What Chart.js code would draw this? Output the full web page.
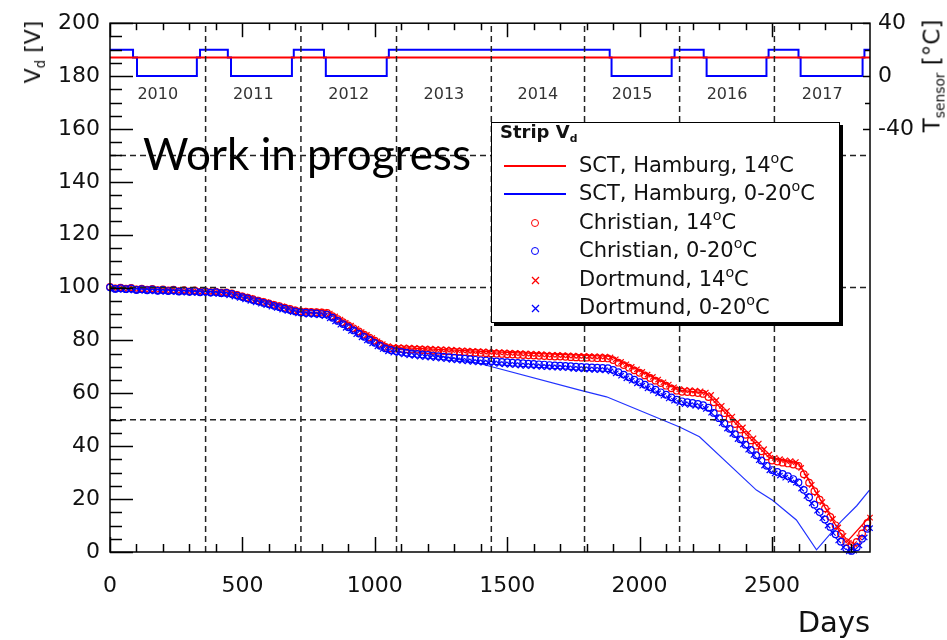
<!DOCTYPE html>
<html lang="en">
<head>
<meta charset="utf-8">
<title>Strip Vd vs days</title>
<script src="https://cdn.jsdelivr.net/npm/chart.js@4.4.1/dist/chart.umd.min.js"></script>
<style>
  html, body { margin: 0; padding: 0; background: #fff; }
  #wrap { position: relative; width: 947px; height: 640px; font-family: "DejaVu Sans", sans-serif; color: #111; overflow: hidden; }
  #chart { position: absolute; left: 0; top: 0; }
  .txt { position: absolute; white-space: nowrap; line-height: 1; }
  .rot { transform: translate(-50%, -50%) rotate(-90deg); }
  sub { font-size: 0.6em; vertical-align: -0.35em; line-height: 0; }
  sup { font-size: 0.68em; vertical-align: 0.6em; line-height: 0; }
  #legend { position: absolute; left: 491px; top: 122px; width: 349px; height: 201px; box-sizing: border-box;
            background: #fff; border: 1.5px solid #000; box-shadow: 3px 3px 0 #000; }
  #legend .title { position: absolute; left: 8px; top: 0; font-weight: bold; font-size: 18px; line-height: 1; }
  .row { position: absolute; left: 0; width: 100%; height: 0; }
  .row .sample { position: absolute; left: 12px; width: 62px; top: -1px; height: 0; border-top: 2px solid; }
  .row .circ { position: absolute; left: 39px; top: -4px; width: 8px; height: 8px; box-sizing: border-box; border: 1.5px solid; border-radius: 50%; }
  .row svg { position: absolute; left: 39px; top: -4px; }
  .row .label { position: absolute; left: 87px; top: -11px; font-size: 21px; line-height: 1; white-space: nowrap; color: #111; }
  #wip { left: 143px; top: 131px; font-family: Lato, sans-serif; font-size: 44px; font-weight: 400; color: #000; }
</style>
</head>
<body>
<div id="wrap">
  <canvas id="chart" width="947" height="640"></canvas>

  <div class="txt rot" style="left:33px; top:52px; font-size:22px;">V<sub>d</sub> [V]</div>
  <div class="txt rot" style="left:932px; top:76px; font-size:23px;">T<sub>sensor</sub> [°C]</div>
  <div class="txt" style="right:77px; top:608px; font-size:29px;">Days</div>
  <div class="txt" id="wip">Work in progress</div>

  <div id="legend">
    <div class="title">Strip V<sub>d</sub></div>
    <div class="row" style="top:42.5px;"><div class="sample" style="border-color:#ff0000;"></div><div class="label">SCT, Hamburg, 14<sup>o</sup>C</div></div>
    <div class="row" style="top:71px;"><div class="sample" style="border-color:#0000ff;"></div><div class="label">SCT, Hamburg, 0-20<sup>o</sup>C</div></div>
    <div class="row" style="top:99.5px;"><div class="circ" style="border-color:#ff0000;"></div><div class="label">Christian, 14<sup>o</sup>C</div></div>
    <div class="row" style="top:128px;"><div class="circ" style="border-color:#0000ff;"></div><div class="label">Christian, 0-20<sup>o</sup>C</div></div>
    <div class="row" style="top:156.5px;"><svg width="9" height="9"><path d="M1 1L8 8M8 1L1 8" stroke="#ff0000" stroke-width="1.3"/></svg><div class="label">Dortmund, 14<sup>o</sup>C</div></div>
    <div class="row" style="top:185px;"><svg width="9" height="9"><path d="M1 1L8 8M8 1L1 8" stroke="#0000ff" stroke-width="1.3"/></svg><div class="label">Dortmund, 0-20<sup>o</sup>C</div></div>
  </div>
</div>

<script>
// ---- data (V_d in volts vs. days) ----
const christianDays = [
  0, 20, 40, 60, 80, 100, 120, 140, 160, 180,
  200, 220, 240, 260, 280, 300, 320, 340, 360, 380,
  400, 420, 440, 460, 480, 500, 520, 540, 560, 580,
  600, 620, 640, 660, 680, 700, 720, 740, 760, 780,
  800, 820, 840, 860, 880, 900, 920, 940, 960, 980,
  1000, 1020, 1040, 1060, 1080, 1100, 1120, 1140, 1160, 1180,
  1200, 1220, 1240, 1260, 1280, 1300, 1320, 1340, 1360, 1380,
  1400, 1420, 1440, 1460, 1480, 1500, 1520, 1540, 1560, 1580,
  1600, 1620, 1640, 1660, 1680, 1700, 1720, 1740, 1760, 1780,
  1800, 1820, 1840, 1860, 1880, 1900, 1920, 1940, 1960, 1980,
  2000, 2020, 2040, 2060, 2080, 2100, 2120, 2140, 2160, 2180,
  2200, 2220, 2240, 2260, 2280, 2300, 2320, 2340, 2360, 2380,
  2400, 2420, 2440, 2460, 2480, 2500, 2520, 2540, 2560, 2580,
  2600, 2620, 2640, 2660, 2680, 2700, 2720, 2740, 2760, 2780,
  2800, 2820, 2840, 2860
];
const christianRed = [
  100.3, 99.7, 100.0, 99.6, 99.9, 99.3, 99.6, 99.2, 99.5, 99.0,
  99.3, 98.9, 99.2, 98.7, 99.0, 98.6, 98.9, 98.4, 98.7, 98.3,
  98.5, 98.1, 98.2, 97.8, 97.2, 96.7, 96.2, 95.6, 95.1, 94.6,
  94.0, 93.5, 93.0, 92.4, 91.9, 91.4, 91.0, 90.9, 90.8, 90.7,
  90.6, 90.4, 89.2, 88.1, 86.9, 85.7, 84.6, 83.4, 82.2, 81.1,
  79.9, 78.7, 77.6, 77.0, 76.9, 76.8, 76.7, 76.6, 76.5, 76.4,
  76.3, 76.2, 76.1, 76.0, 75.9, 75.8, 75.7, 75.6, 75.5, 75.4,
  75.3, 75.2, 75.1, 75.0, 74.9, 74.8, 74.7, 74.6, 74.5, 74.4,
  74.3, 74.2, 74.1, 74.0, 73.9, 73.9, 73.8, 73.7, 73.6, 73.5,
  73.5, 73.4, 73.3, 73.3, 73.2, 72.6, 71.6, 70.7, 69.7, 68.7,
  67.8, 66.8, 65.8, 64.8, 63.9, 62.9, 61.9, 61.0, 60.6, 60.5,
  60.3, 60.1, 59.8, 58.6, 56.6, 54.5, 52.5, 50.4, 48.4, 46.3,
  44.3, 42.2, 40.2, 38.1, 36.1, 34.6, 34.2, 33.8, 33.5, 33.1,
  32.6, 29.4, 26.2, 23.0, 19.8, 16.5, 13.3, 10.1, 6.9, 3.7,
  2.2, 3.8, 7.0, 11.0
];
const christianBlue = [
  100.1, 99.5, 99.8, 99.4, 99.7, 99.1, 99.4, 99.0, 99.3, 98.8,
  99.1, 98.7, 99.0, 98.5, 98.8, 98.4, 98.7, 98.2, 98.5, 98.1,
  98.3, 97.9, 98.0, 97.6, 97.0, 96.4, 95.9, 95.3, 94.8, 94.2,
  93.7, 93.1, 92.6, 92.0, 91.5, 91.0, 90.6, 90.5, 90.4, 90.2,
  90.0, 89.8, 88.6, 87.4, 86.2, 85.0, 83.8, 82.6, 81.4, 80.2,
  79.1, 78.0, 77.0, 76.4, 76.0, 75.7, 75.4, 75.1, 74.9, 74.7,
  74.5, 74.3, 74.1, 73.9, 73.7, 73.5, 73.3, 73.1, 72.9, 72.7,
  72.5, 72.4, 72.2, 72.1, 71.9, 71.8, 71.6, 71.5, 71.4, 71.2,
  71.1, 71.0, 70.9, 70.7, 70.6, 70.5, 70.4, 70.3, 70.1, 70.0,
  69.9, 69.8, 69.7, 69.6, 69.5, 68.9, 68.0, 67.1, 66.1, 65.2,
  64.2, 63.3, 62.3, 61.4, 60.4, 59.5, 58.5, 57.6, 57.0, 56.7,
  56.4, 56.0, 55.5, 54.6, 52.6, 50.6, 48.6, 46.6, 44.6, 42.6,
  40.6, 38.6, 36.6, 34.6, 32.6, 31.0, 30.3, 29.5, 28.7, 27.6,
  26.3, 23.5, 20.7, 17.9, 15.1, 12.3, 9.5, 6.7, 3.9, 1.3,
  0.4, 1.8, 5.0, 8.8
];
const dortmundDays = [
  10, 30, 50, 70, 90, 110, 130, 150, 170, 190,
  210, 230, 250, 270, 290, 310, 330, 350, 370, 390,
  410, 430, 450, 470, 490, 510, 530, 550, 570, 590,
  610, 630, 650, 670, 690, 710, 730, 750, 770, 790,
  810, 830, 850, 870, 890, 910, 930, 950, 970, 990,
  1010, 1030, 1050, 1070, 1090, 1110, 1130, 1150, 1170, 1190,
  1210, 1230, 1250, 1270, 1290, 1310, 1330, 1350, 1370, 1390,
  1410, 1430, 1450, 1470, 1490, 1510, 1530, 1550, 1570, 1590,
  1610, 1630, 1650, 1670, 1690, 1710, 1730, 1750, 1770, 1790,
  1810, 1830, 1850, 1870, 1890, 1910, 1930, 1950, 1970, 1990,
  2010, 2030, 2050, 2070, 2090, 2110, 2130, 2150, 2170, 2190,
  2210, 2230, 2250, 2270, 2290, 2310, 2330, 2350, 2370, 2390,
  2410, 2430, 2450, 2470, 2490, 2510, 2530, 2550, 2570, 2590,
  2610, 2630, 2650, 2670, 2690, 2710, 2730, 2750, 2770, 2790,
  2810, 2830, 2850, 2870
];
const dortmundRed = [
  100.0, 99.9, 99.8, 99.8, 99.6, 99.5, 99.4, 99.4, 99.3, 99.2,
  99.1, 99.0, 98.9, 98.9, 98.8, 98.7, 98.6, 98.6, 98.5, 98.4,
  98.3, 98.2, 98.0, 97.6, 97.1, 96.6, 96.1, 95.5, 95.0, 94.5,
  93.9, 93.4, 92.9, 92.3, 91.8, 91.4, 91.2, 91.1, 91.0, 90.9,
  90.8, 90.2, 89.1, 87.9, 86.7, 85.6, 84.4, 83.2, 82.1, 80.9,
  79.7, 78.6, 77.9, 77.6, 77.5, 77.4, 77.3, 77.2, 77.1, 77.0,
  76.9, 76.8, 76.7, 76.6, 76.5, 76.4, 76.3, 76.2, 76.1, 76.0,
  75.9, 75.8, 75.7, 75.6, 75.5, 75.4, 75.3, 75.2, 75.1, 75.0,
  74.9, 74.8, 74.7, 74.6, 74.6, 74.5, 74.4, 74.3, 74.2, 74.2,
  74.1, 74.0, 74.0, 73.9, 73.6, 72.9, 71.9, 71.0, 70.0, 69.1,
  68.1, 67.1, 66.2, 65.2, 64.2, 63.3, 62.3, 61.6, 61.3, 61.2,
  61.0, 60.8, 60.3, 59.4, 57.4, 55.3, 53.3, 51.2, 49.2, 47.1,
  45.1, 43.0, 41.0, 38.9, 36.9, 35.6, 35.1, 34.7, 34.4, 34.0,
  31.8, 28.6, 25.4, 22.2, 18.9, 15.7, 12.5, 9.3, 6.1, 3.5,
  3.0, 5.5, 9.0, 13.0
];
const dortmundBlue = [
  99.3, 99.2, 99.1, 99.0, 98.9, 98.9, 98.8, 98.7, 98.6, 98.5,
  98.4, 98.4, 98.3, 98.2, 98.1, 98.0, 98.0, 97.9, 97.8, 97.7,
  97.6, 97.4, 97.1, 96.6, 96.1, 95.5, 95.0, 94.4, 93.9, 93.4,
  92.8, 92.3, 91.7, 91.2, 90.7, 90.2, 89.9, 89.8, 89.7, 89.5,
  89.2, 88.4, 87.2, 86.0, 84.8, 83.6, 82.4, 81.2, 80.0, 78.9,
  77.8, 76.8, 75.9, 75.4, 75.0, 74.7, 74.4, 74.2, 73.9, 73.7,
  73.5, 73.3, 73.1, 72.9, 72.7, 72.5, 72.3, 72.1, 71.9, 71.7,
  71.6, 71.4, 71.3, 71.1, 71.0, 70.8, 70.7, 70.5, 70.4, 70.3,
  70.2, 70.0, 69.9, 69.8, 69.7, 69.6, 69.5, 69.3, 69.2, 69.1,
  69.0, 68.9, 68.8, 68.7, 68.3, 67.6, 66.7, 65.7, 64.8, 63.8,
  62.9, 61.9, 61.0, 60.0, 59.1, 58.1, 57.2, 56.4, 55.9, 55.6,
  55.3, 54.9, 54.1, 52.7, 50.7, 48.7, 46.7, 44.7, 42.7, 40.7,
  38.7, 36.7, 34.7, 32.7, 30.9, 29.7, 28.9, 28.1, 27.3, 26.2,
  24.0, 21.2, 18.4, 15.6, 12.8, 10.0, 7.2, 4.4, 1.8, 0.2,
  0.5, 2.5, 5.5, 9.0
];

// SCT Hamburg simulation curves
const hamburgRedDays = [0, 90, 460, 720, 820, 1050, 1100, 1400, 1890, 2150, 2250, 2490, 2600, 2780, 2870];
const hamburgRedV = [100.3, 99.7, 98.2, 91.5, 91.1, 77.8, 77.3, 75.9, 74.0, 61.2, 60.2, 35.6, 33.6, 3.5, 13.5];
const hamburgBlueDays = [0, 90, 460, 720, 820, 1050, 1100, 1200, 1396, 1774, 1875, 2151, 2226, 2441, 2502, 2592, 2668, 2760, 2820, 2868];
const hamburgBlueV = [100.1, 99.5, 98.0, 90.9, 90.4, 77.5, 76.6, 75.0, 71.3, 61.2, 58.7, 47.3, 43.6, 23.4, 19.6, 12.1, 0.8, 11.5, 17.5, 23.4];

// sensor temperature (right axis), each value holds until the next day listed
const tempDays = [0, 87, 102, 328, 340, 445, 457, 687, 694, 808, 815, 1045, 1053, 1887, 1894, 2121, 2132, 2242, 2253, 2479, 2487, 2600, 2608, 2842, 2849, 2870];
const tempBlue = [20, 14, 0, 14, 20, 14, 0, 14, 20, 14, 0, 14, 20, 14, 0, 14, 20, 14, 0, 14, 20, 14, 0, 14, 20, 20];
const tempRedDays = [0, 2870];
const tempRed = [14, 14];

// year boundaries (days), year labels, horizontal guide lines (V), axis ticks
const yearBounds = [361, 721, 1082, 1440, 1792, 2151, 2509];
const years = ['2010', '2011', '2012', '2013', '2014', '2015', '2016', '2017'];
const guideV = [50, 100, 150];
const xTicks = [0, 500, 1000, 1500, 2000, 2500];
const tempTicks = [-40, 0, 40];

const RED = '#ff0000';
const BLUE = '#0000ff';
const FONT = '"DejaVu Sans", sans-serif';

function xy(days, vals) {
  return days.map((d, i) => ({ x: d, y: vals[i] }));
}

function markers(days, vals, color, style, order) {
  return {
    data: xy(days, vals), showLine: false, pointStyle: style,
    pointRadius: style === 'circle' ? 3.3 : 3.8,
    pointBackgroundColor: 'rgba(0,0,0,0)', pointBorderColor: color,
    pointBorderWidth: 1.2, clip: false, order
  };
}

const datasets = [
  { data: xy(hamburgRedDays, hamburgRedV), borderColor: RED, borderWidth: 1.3, pointRadius: 0, order: 9 },
  { data: xy(hamburgBlueDays, hamburgBlueV), borderColor: '#2233ff', borderWidth: 1.2, pointRadius: 0, order: 8 },
  markers(dortmundDays, dortmundRed, RED, 'crossRot', 7),
  markers(christianDays, christianRed, RED, 'circle', 6),
  markers(dortmundDays, dortmundBlue, BLUE, 'crossRot', 5),
  markers(christianDays, christianBlue, BLUE, 'circle', 4),
  { data: xy(tempDays, tempBlue), yAxisID: 'y1', stepped: true, borderColor: BLUE, borderWidth: 2, pointRadius: 0, order: 3 },
  { data: xy(tempRedDays, tempRed), yAxisID: 'y1', borderColor: RED, borderWidth: 2, pointRadius: 0, order: 2 }
];

// dashed guide lines
yearBounds.forEach(d => {
  datasets.push({ data: [{ x: d, y: 0 }, { x: d, y: 200 }], borderColor: '#222', borderWidth: 1.5,
    borderDash: [6, 4], pointRadius: 0, order: 1 });
});
guideV.forEach(v => {
  datasets.push({ data: [{ x: 0, y: v }, { x: 2870, y: v }], borderColor: '#222', borderWidth: 1.5,
    borderDash: [6, 4], pointRadius: 0, order: 1 });
});

// frame, inward ROOT-style ticks and year labels
const axisDecor = {
  id: 'axisDecor',
  afterDatasetsDraw(chart) {
    const { ctx, chartArea: a, scales: { x, y, y1 } } = chart;
    const seg = (x0, y0, x1, y1_) => { ctx.beginPath(); ctx.moveTo(x0, y0); ctx.lineTo(x1, y1_); ctx.stroke(); };
    ctx.save();
    ctx.strokeStyle = '#000';
    ctx.lineWidth = 1.5;

    for (let d = 0; d <= x.max; d += 100) {
      const px = Math.round(x.getPixelForValue(d)) + 0.5;
      const major = d % 500 === 0;
      seg(px, a.bottom, px, a.bottom - (major ? 15 : 8));
      seg(px, a.top, px, a.top + (major ? 14 : 7));
    }
    for (let v = 0; v <= 200; v += 5) {
      const py = Math.round(y.getPixelForValue(v)) + 0.5;
      seg(a.left, py, a.left + (v % 20 === 0 ? 23 : 12), py);
    }
    for (let t = -40; t <= 40; t += 20) {
      const py = Math.round(y1.getPixelForValue(t)) + 0.5;
      seg(a.right, py, a.right - (t % 40 === 0 ? 7 : 5), py);
    }
    ctx.strokeRect(a.left, a.top, a.right - a.left, a.bottom - a.top);

    const edges = [0, ...yearBounds, x.max];
    ctx.fillStyle = '#333';
    ctx.font = '16px ' + FONT;
    ctx.textAlign = 'center';
    ctx.textBaseline = 'middle';
    years.forEach((yr, i) => {
      const mid = (edges[i] + edges[i + 1]) / 2;
      ctx.fillText(yr, x.getPixelForValue(mid), y.getPixelForValue(173));
    });
    ctx.restore();
  }
};

const tickFont = { family: FONT, size: 22 };

new Chart(document.getElementById('chart'), {
  type: 'line',
  data: { datasets },
  options: {
    responsive: false,
    animation: false,
    layout: { padding: { top: 23 } },
    elements: { line: { tension: 0 } },
    plugins: { legend: { display: false }, tooltip: { enabled: false } },
    scales: {
      x: {
        type: 'linear', min: 0, max: 2870,
        grid: { display: false, drawTicks: false }, border: { display: false },
        afterBuildTicks: s => { s.ticks = xTicks.map(v => ({ value: v })); },
        ticks: { padding: 21, font: tickFont, color: '#111', maxRotation: 0, autoSkip: false,
                 callback: v => String(v) },
        afterFit: s => { s.height = 88; }
      },
      y: {
        position: 'left', min: 0, max: 200,
        grid: { display: false, drawTicks: false }, border: { display: false },
        ticks: { stepSize: 20, padding: 10, font: tickFont, color: '#111', callback: v => String(v) },
        afterFit: s => { s.width = 110; }
      },
      y1: {
        position: 'right', min: -360, max: 40,
        grid: { display: false, drawTicks: false }, border: { display: false },
        afterBuildTicks: s => { s.ticks = tempTicks.map(v => ({ value: v })); },
        ticks: { padding: 8, font: tickFont, color: '#111', autoSkip: false, callback: v => String(v) },
        afterFit: s => { s.width = 77; }
      }
    }
  },
  plugins: [axisDecor]
});
</script>
</body>
</html>
